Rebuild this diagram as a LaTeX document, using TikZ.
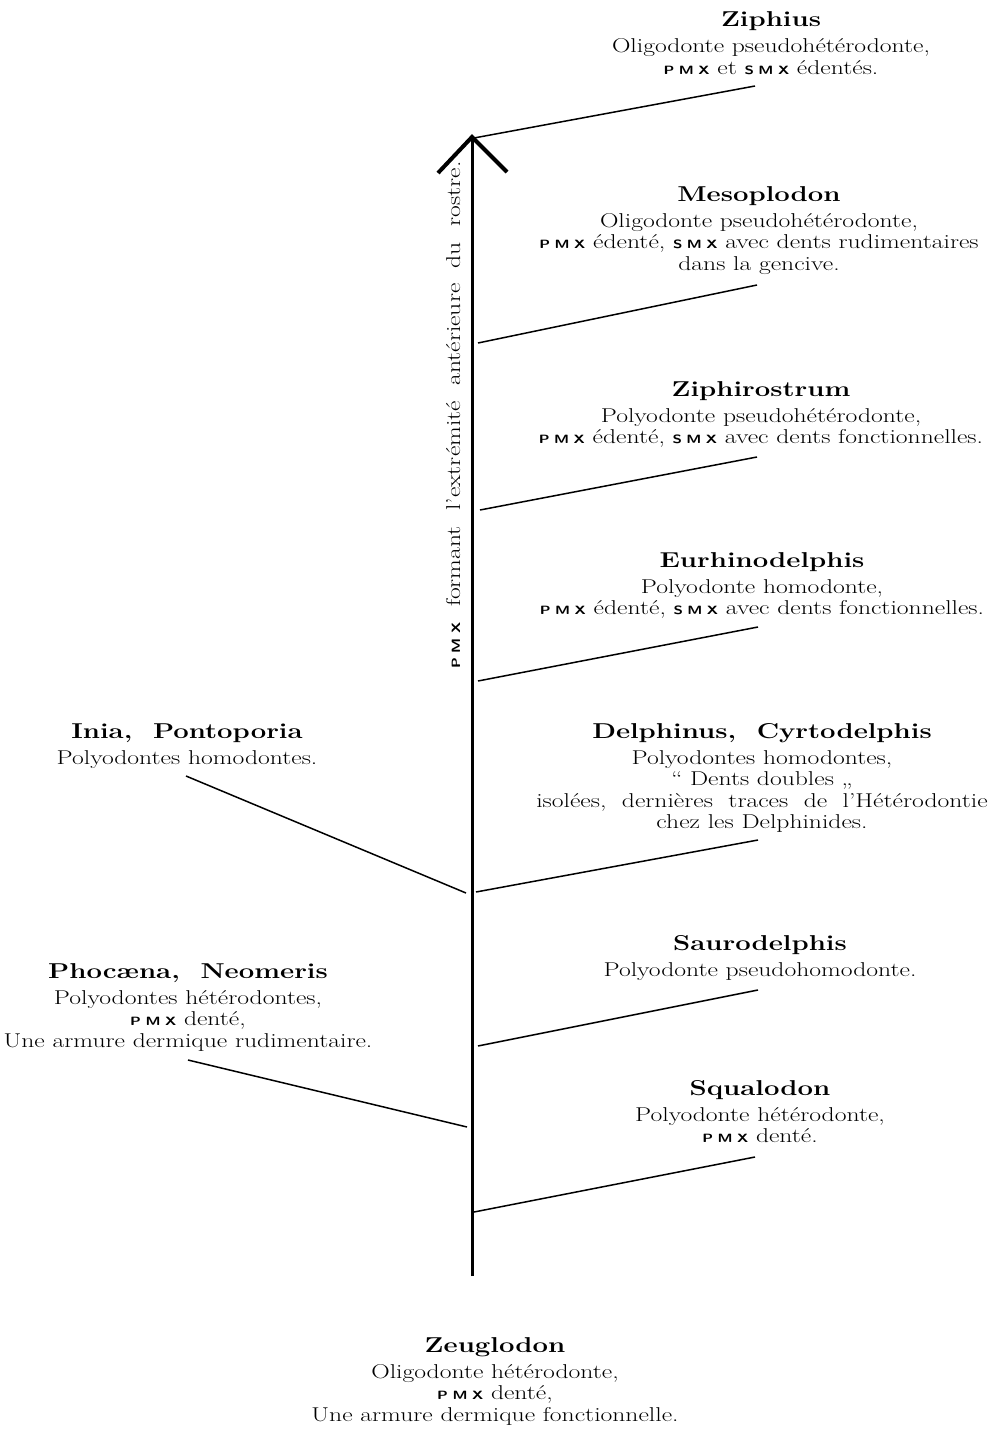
\documentclass[tikz,border=0pt]{standalone}
\usepackage{graphicx}
\newcommand\pmx{{\fontsize{12}{12}\selectfont\sffamily\bfseries P\kern3.5pt M\kern3.5pt X}}
\newcommand\smx{{\fontsize{12}{12}\selectfont\sffamily\bfseries S\kern3.5pt M\kern3.5pt X}}
\newcommand\blk[2]{\scalebox{1.28}[1]{\fontsize{20}{21.5}\selectfont\begin{tabular}[t]{@{}c@{}}{\fontsize{21.5}{21.5}\selectfont\bfseries #1}\\[4.5pt] #2\end{tabular}}}
\tikzset{
  blockbox/.style={anchor=base, inner sep=0pt, outer sep=0pt},
  stem/.style={line width=3pt},
  arrowarm/.style={line width=4pt},
  branch/.style={line width=1.5pt},
}
\begin{document}
\begin{tikzpicture}[x=1pt,y=-1pt]
\useasboundingbox (0,0) rectangle (992,1429);

% main stem
\coordinate (tip) at (472,137);
\coordinate (bot) at (472,1276);
\coordinate (armL) at (438,173);
\coordinate (armR) at (507,172);
\draw[stem] (bot) -- (tip);
\draw[arrowarm] (armL) -- (tip) -- (armR);

% vertical label
\node[rotate=90, anchor=base, inner sep=0pt] (vlabel) at (460,415)
  {\scalebox{1.28}[1]{\fontsize{20}{21.5}\selectfont\makebox[396pt][s]{\pmx\ formant l'extrémité antérieure du rostre.}}};

% text blocks
\node[blockbox] (ziphius) at (771,27) {\blk{Ziphius}{Oligodonte pseudohétérodonte,\\ \pmx{} et \smx{} édentés.}};
\node[blockbox] (mesoplodon) at (759,201) {\blk{Mesoplodon}{Oligodonte pseudohétérodonte,\\ \pmx{} édenté, \smx{} avec dents rudimentaires\\ dans la gencive.}};
\node[blockbox] (ziphirostrum) at (761,396) {\blk{Ziphirostrum}{Polyodonte pseudohétérodonte,\\ \pmx{} édenté, \smx{} avec dents fonctionnelles.}};
\node[blockbox] (eurhino) at (762,567) {\blk{Eurhinodelphis}{Polyodonte homodonte,\\ \pmx{} édenté, \smx{} avec dents fonctionnelles.}};
\node[blockbox] (delphinus) at (762,738) {\blk{Delphinus, \ Cyrtodelphis}{Polyodontes homodontes,\\ “ Dents doubles „\\ isolées, \ dernières \ traces \ de \ l’Hétérodontie\\ chez les Delphinides.}};
\node[blockbox] (inia) at (187,738) {\blk{Inia, \ Pontoporia}{Polyodontes homodontes.}};
\node[blockbox] (saurodelphis) at (760,950) {\blk{Saurodelphis}{Polyodonte pseudohomodonte.}};
\node[blockbox] (phocaena) at (188,978) {\blk{Phocæna, \ Neomeris}{Polyodontes hétérodontes,\\ \pmx{} denté,\\ Une armure dermique rudimentaire.}};
\node[blockbox] (squalodon) at (760,1095) {\blk{Squalodon}{Polyodonte hétérodonte,\\ \pmx{} denté.}};
\node[blockbox] (zeuglodon) at (495,1352) {\blk{Zeuglodon}{Oligodonte hétérodonte,\\ \pmx{} denté,\\ Une armure dermique fonctionnelle.}};

% branch connectors
\coordinate (zi-s) at (474,138);   \coordinate (zi-e) at (755,86);
\coordinate (me-s) at (478,343);   \coordinate (me-e) at (757,285);
\coordinate (zr-s) at (480,510);   \coordinate (zr-e) at (757,457);
\coordinate (eu-s) at (478,681);   \coordinate (eu-e) at (758,627);
\coordinate (de-s) at (476,892);   \coordinate (de-e) at (758,840);
\coordinate (in-s) at (466,893);   \coordinate (in-e) at (186,776);
\coordinate (sa-s) at (478,1046);  \coordinate (sa-e) at (758,990);
\coordinate (ph-s) at (467,1127);  \coordinate (ph-e) at (188,1060);
\coordinate (sq-s) at (474,1212);  \coordinate (sq-e) at (755,1157);
\draw[branch] (zi-s) -- (zi-e);
\draw[branch] (me-s) -- (me-e);
\draw[branch] (zr-s) -- (zr-e);
\draw[branch] (eu-s) -- (eu-e);
\draw[branch] (de-s) -- (de-e);
\draw[branch] (in-s) -- (in-e);
\draw[branch] (sa-s) -- (sa-e);
\draw[branch] (ph-s) -- (ph-e);
\draw[branch] (sq-s) -- (sq-e);
\end{tikzpicture}
\end{document}
